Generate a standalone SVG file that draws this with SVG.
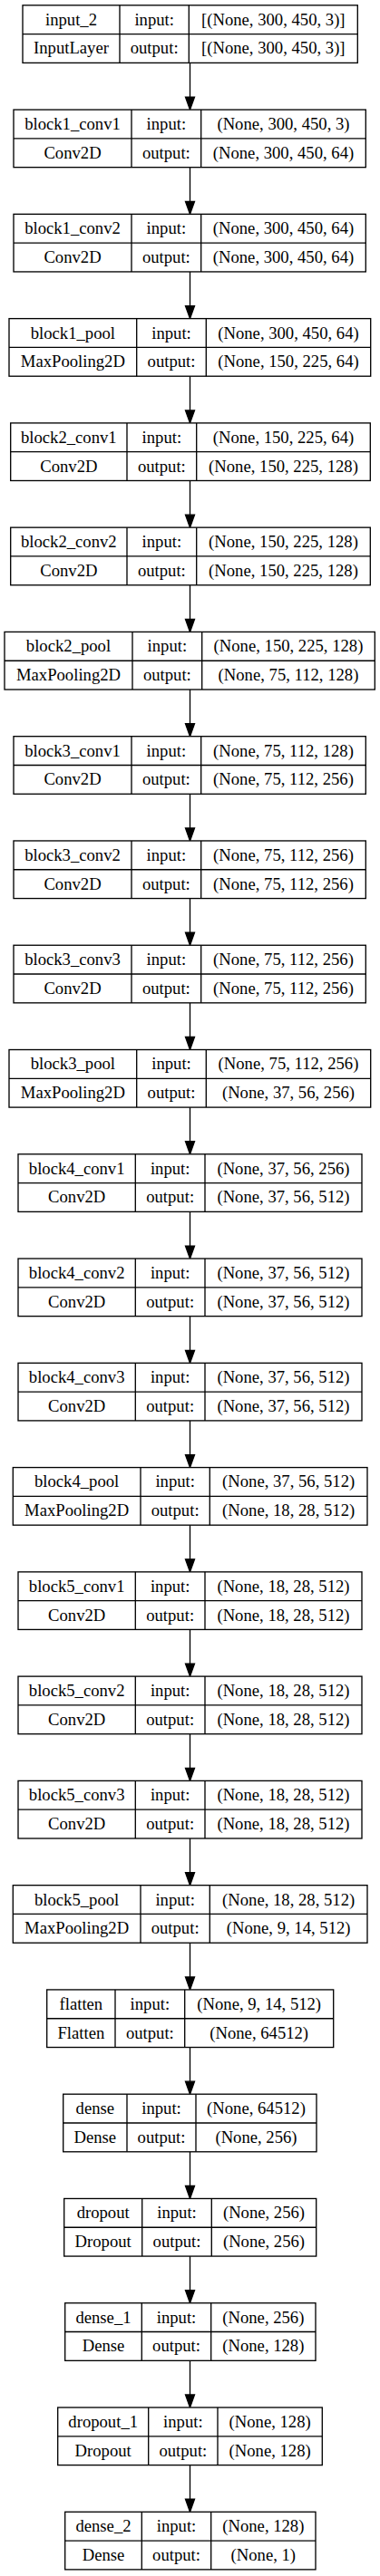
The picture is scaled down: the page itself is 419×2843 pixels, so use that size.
<svg xmlns="http://www.w3.org/2000/svg" width="419" height="2843" viewBox="0 0 419 2843">
<style>
.box{fill:#fff;stroke:#000;stroke-width:1.33}
.ln{stroke:#000;stroke-width:1.33}
text{font-family:"Liberation Serif","Times New Roman",serif;font-size:18.67px;fill:#000;text-anchor:middle}
.edge{stroke:#000;stroke-width:1.33;fill:none;marker-end:url(#ah)}
</style>
<defs>
<marker id="ah" markerUnits="userSpaceOnUse" markerWidth="10" markerHeight="14" refX="5" refY="0" orient="0" viewBox="0 0 10 14" overflow="visible">
<path d="M0,0 L10,0 L5,14 Z" fill="#000" stroke="#000" stroke-width="1.33"/>
</marker>
</defs>
<rect width="419" height="2843" fill="#fff"/>
<g id="connectors">
<path class="edge" d="M209.5,69.4V107.07"/>
<path class="edge" d="M209.5,184.67V222.34"/>
<path class="edge" d="M209.5,299.94V337.61"/>
<path class="edge" d="M209.5,415.21V452.88"/>
<path class="edge" d="M209.5,530.48V568.15"/>
<path class="edge" d="M209.5,645.75V683.42"/>
<path class="edge" d="M209.5,761.02V798.69"/>
<path class="edge" d="M209.5,876.29V913.96"/>
<path class="edge" d="M209.5,991.56V1029.23"/>
<path class="edge" d="M209.5,1106.83V1144.5"/>
<path class="edge" d="M209.5,1222.1V1259.77"/>
<path class="edge" d="M209.5,1337.37V1375.04"/>
<path class="edge" d="M209.5,1452.64V1490.31"/>
<path class="edge" d="M209.5,1567.91V1605.58"/>
<path class="edge" d="M209.5,1683.18V1720.85"/>
<path class="edge" d="M209.5,1798.45V1836.12"/>
<path class="edge" d="M209.5,1913.72V1951.39"/>
<path class="edge" d="M209.5,2028.99V2066.66"/>
<path class="edge" d="M209.5,2144.26V2181.93"/>
<path class="edge" d="M209.5,2259.53V2297.2"/>
<path class="edge" d="M209.5,2374.8V2412.47"/>
<path class="edge" d="M209.5,2490.07V2527.74"/>
<path class="edge" d="M209.5,2605.34V2643.01"/>
<path class="edge" d="M209.5,2720.61V2758.28"/>
</g>
<g id="input_2" transform="translate(0,5.8)">
<rect class="box" x="25" y="0" width="369.3" height="63.6"/>
<line class="ln" x1="25" y1="31.8" x2="394.3" y2="31.8"/>
<line class="ln" x1="132" y1="0" x2="132" y2="63.6"/>
<line class="ln" x1="208.3" y1="0" x2="208.3" y2="63.6"/>
<text x="78.5" y="21.9">input_2</text><text x="78.5" y="53.7">InputLayer</text>
<text x="170.15" y="21.9">input:</text><text x="170.15" y="53.7">output:</text>
<text x="301.3" y="21.9">[(None, 300, 450, 3)]</text><text x="301.3" y="53.7">[(None, 300, 450, 3)]</text>
</g>
<g id="block1_conv1" transform="translate(0,121.07)">
<rect class="box" x="15" y="0" width="388.3" height="63.6"/>
<line class="ln" x1="15" y1="31.8" x2="403.3" y2="31.8"/>
<line class="ln" x1="145" y1="0" x2="145" y2="63.6"/>
<line class="ln" x1="221.7" y1="0" x2="221.7" y2="63.6"/>
<text x="80" y="21.9">block1_conv1</text><text x="80" y="53.7">Conv2D</text>
<text x="183.35" y="21.9">input:</text><text x="183.35" y="53.7">output:</text>
<text x="312.5" y="21.9">(None, 300, 450, 3)</text><text x="312.5" y="53.7">(None, 300, 450, 64)</text>
</g>
<g id="block1_conv2" transform="translate(0,236.34)">
<rect class="box" x="15" y="0" width="388.3" height="63.6"/>
<line class="ln" x1="15" y1="31.8" x2="403.3" y2="31.8"/>
<line class="ln" x1="145" y1="0" x2="145" y2="63.6"/>
<line class="ln" x1="221.7" y1="0" x2="221.7" y2="63.6"/>
<text x="80" y="21.9">block1_conv2</text><text x="80" y="53.7">Conv2D</text>
<text x="183.35" y="21.9">input:</text><text x="183.35" y="53.7">output:</text>
<text x="312.5" y="21.9">(None, 300, 450, 64)</text><text x="312.5" y="53.7">(None, 300, 450, 64)</text>
</g>
<g id="block1_pool" transform="translate(0,351.61)">
<rect class="box" x="10" y="0" width="398.7" height="63.6"/>
<line class="ln" x1="10" y1="31.8" x2="408.7" y2="31.8"/>
<line class="ln" x1="150.7" y1="0" x2="150.7" y2="63.6"/>
<line class="ln" x1="227.3" y1="0" x2="227.3" y2="63.6"/>
<text x="80.35" y="21.9">block1_pool</text><text x="80.35" y="53.7">MaxPooling2D</text>
<text x="189" y="21.9">input:</text><text x="189" y="53.7">output:</text>
<text x="318" y="21.9">(None, 300, 450, 64)</text><text x="318" y="53.7">(None, 150, 225, 64)</text>
</g>
<g id="block2_conv1" transform="translate(0,466.88)">
<rect class="box" x="11.7" y="0" width="396.6" height="63.6"/>
<line class="ln" x1="11.7" y1="31.8" x2="408.3" y2="31.8"/>
<line class="ln" x1="140" y1="0" x2="140" y2="63.6"/>
<line class="ln" x1="216.7" y1="0" x2="216.7" y2="63.6"/>
<text x="75.85" y="21.9">block2_conv1</text><text x="75.85" y="53.7">Conv2D</text>
<text x="178.35" y="21.9">input:</text><text x="178.35" y="53.7">output:</text>
<text x="312.5" y="21.9">(None, 150, 225, 64)</text><text x="312.5" y="53.7">(None, 150, 225, 128)</text>
</g>
<g id="block2_conv2" transform="translate(0,582.15)">
<rect class="box" x="11.7" y="0" width="396.6" height="63.6"/>
<line class="ln" x1="11.7" y1="31.8" x2="408.3" y2="31.8"/>
<line class="ln" x1="140" y1="0" x2="140" y2="63.6"/>
<line class="ln" x1="216.7" y1="0" x2="216.7" y2="63.6"/>
<text x="75.85" y="21.9">block2_conv2</text><text x="75.85" y="53.7">Conv2D</text>
<text x="178.35" y="21.9">input:</text><text x="178.35" y="53.7">output:</text>
<text x="312.5" y="21.9">(None, 150, 225, 128)</text><text x="312.5" y="53.7">(None, 150, 225, 128)</text>
</g>
<g id="block2_pool" transform="translate(0,697.42)">
<rect class="box" x="5" y="0" width="408.3" height="63.6"/>
<line class="ln" x1="5" y1="31.8" x2="413.3" y2="31.8"/>
<line class="ln" x1="146" y1="0" x2="146" y2="63.6"/>
<line class="ln" x1="222.7" y1="0" x2="222.7" y2="63.6"/>
<text x="75.5" y="21.9">block2_pool</text><text x="75.5" y="53.7">MaxPooling2D</text>
<text x="184.35" y="21.9">input:</text><text x="184.35" y="53.7">output:</text>
<text x="318" y="21.9">(None, 150, 225, 128)</text><text x="318" y="53.7">(None, 75, 112, 128)</text>
</g>
<g id="block3_conv1" transform="translate(0,812.69)">
<rect class="box" x="15" y="0" width="388.3" height="63.6"/>
<line class="ln" x1="15" y1="31.8" x2="403.3" y2="31.8"/>
<line class="ln" x1="145" y1="0" x2="145" y2="63.6"/>
<line class="ln" x1="221.7" y1="0" x2="221.7" y2="63.6"/>
<text x="80" y="21.9">block3_conv1</text><text x="80" y="53.7">Conv2D</text>
<text x="183.35" y="21.9">input:</text><text x="183.35" y="53.7">output:</text>
<text x="312.5" y="21.9">(None, 75, 112, 128)</text><text x="312.5" y="53.7">(None, 75, 112, 256)</text>
</g>
<g id="block3_conv2" transform="translate(0,927.96)">
<rect class="box" x="15" y="0" width="388.3" height="63.6"/>
<line class="ln" x1="15" y1="31.8" x2="403.3" y2="31.8"/>
<line class="ln" x1="145" y1="0" x2="145" y2="63.6"/>
<line class="ln" x1="221.7" y1="0" x2="221.7" y2="63.6"/>
<text x="80" y="21.9">block3_conv2</text><text x="80" y="53.7">Conv2D</text>
<text x="183.35" y="21.9">input:</text><text x="183.35" y="53.7">output:</text>
<text x="312.5" y="21.9">(None, 75, 112, 256)</text><text x="312.5" y="53.7">(None, 75, 112, 256)</text>
</g>
<g id="block3_conv3" transform="translate(0,1043.23)">
<rect class="box" x="15" y="0" width="388.3" height="63.6"/>
<line class="ln" x1="15" y1="31.8" x2="403.3" y2="31.8"/>
<line class="ln" x1="145" y1="0" x2="145" y2="63.6"/>
<line class="ln" x1="221.7" y1="0" x2="221.7" y2="63.6"/>
<text x="80" y="21.9">block3_conv3</text><text x="80" y="53.7">Conv2D</text>
<text x="183.35" y="21.9">input:</text><text x="183.35" y="53.7">output:</text>
<text x="312.5" y="21.9">(None, 75, 112, 256)</text><text x="312.5" y="53.7">(None, 75, 112, 256)</text>
</g>
<g id="block3_pool" transform="translate(0,1158.5)">
<rect class="box" x="10" y="0" width="398.7" height="63.6"/>
<line class="ln" x1="10" y1="31.8" x2="408.7" y2="31.8"/>
<line class="ln" x1="150.7" y1="0" x2="150.7" y2="63.6"/>
<line class="ln" x1="227.3" y1="0" x2="227.3" y2="63.6"/>
<text x="80.35" y="21.9">block3_pool</text><text x="80.35" y="53.7">MaxPooling2D</text>
<text x="189" y="21.9">input:</text><text x="189" y="53.7">output:</text>
<text x="318" y="21.9">(None, 75, 112, 256)</text><text x="318" y="53.7">(None, 37, 56, 256)</text>
</g>
<g id="block4_conv1" transform="translate(0,1273.77)">
<rect class="box" x="20" y="0" width="379" height="63.6"/>
<line class="ln" x1="20" y1="31.8" x2="399" y2="31.8"/>
<line class="ln" x1="149.3" y1="0" x2="149.3" y2="63.6"/>
<line class="ln" x1="226" y1="0" x2="226" y2="63.6"/>
<text x="84.65" y="21.9">block4_conv1</text><text x="84.65" y="53.7">Conv2D</text>
<text x="187.65" y="21.9">input:</text><text x="187.65" y="53.7">output:</text>
<text x="312.5" y="21.9">(None, 37, 56, 256)</text><text x="312.5" y="53.7">(None, 37, 56, 512)</text>
</g>
<g id="block4_conv2" transform="translate(0,1389.04)">
<rect class="box" x="20" y="0" width="379" height="63.6"/>
<line class="ln" x1="20" y1="31.8" x2="399" y2="31.8"/>
<line class="ln" x1="149.3" y1="0" x2="149.3" y2="63.6"/>
<line class="ln" x1="226" y1="0" x2="226" y2="63.6"/>
<text x="84.65" y="21.9">block4_conv2</text><text x="84.65" y="53.7">Conv2D</text>
<text x="187.65" y="21.9">input:</text><text x="187.65" y="53.7">output:</text>
<text x="312.5" y="21.9">(None, 37, 56, 512)</text><text x="312.5" y="53.7">(None, 37, 56, 512)</text>
</g>
<g id="block4_conv3" transform="translate(0,1504.31)">
<rect class="box" x="20" y="0" width="379" height="63.6"/>
<line class="ln" x1="20" y1="31.8" x2="399" y2="31.8"/>
<line class="ln" x1="149.3" y1="0" x2="149.3" y2="63.6"/>
<line class="ln" x1="226" y1="0" x2="226" y2="63.6"/>
<text x="84.65" y="21.9">block4_conv3</text><text x="84.65" y="53.7">Conv2D</text>
<text x="187.65" y="21.9">input:</text><text x="187.65" y="53.7">output:</text>
<text x="312.5" y="21.9">(None, 37, 56, 512)</text><text x="312.5" y="53.7">(None, 37, 56, 512)</text>
</g>
<g id="block4_pool" transform="translate(0,1619.58)">
<rect class="box" x="14.3" y="0" width="390.7" height="63.6"/>
<line class="ln" x1="14.3" y1="31.8" x2="405" y2="31.8"/>
<line class="ln" x1="155" y1="0" x2="155" y2="63.6"/>
<line class="ln" x1="231.3" y1="0" x2="231.3" y2="63.6"/>
<text x="84.65" y="21.9">block4_pool</text><text x="84.65" y="53.7">MaxPooling2D</text>
<text x="193.15" y="21.9">input:</text><text x="193.15" y="53.7">output:</text>
<text x="318.15" y="21.9">(None, 37, 56, 512)</text><text x="318.15" y="53.7">(None, 18, 28, 512)</text>
</g>
<g id="block5_conv1" transform="translate(0,1734.85)">
<rect class="box" x="20" y="0" width="379" height="63.6"/>
<line class="ln" x1="20" y1="31.8" x2="399" y2="31.8"/>
<line class="ln" x1="149.3" y1="0" x2="149.3" y2="63.6"/>
<line class="ln" x1="226" y1="0" x2="226" y2="63.6"/>
<text x="84.65" y="21.9">block5_conv1</text><text x="84.65" y="53.7">Conv2D</text>
<text x="187.65" y="21.9">input:</text><text x="187.65" y="53.7">output:</text>
<text x="312.5" y="21.9">(None, 18, 28, 512)</text><text x="312.5" y="53.7">(None, 18, 28, 512)</text>
</g>
<g id="block5_conv2" transform="translate(0,1850.12)">
<rect class="box" x="20" y="0" width="379" height="63.6"/>
<line class="ln" x1="20" y1="31.8" x2="399" y2="31.8"/>
<line class="ln" x1="149.3" y1="0" x2="149.3" y2="63.6"/>
<line class="ln" x1="226" y1="0" x2="226" y2="63.6"/>
<text x="84.65" y="21.9">block5_conv2</text><text x="84.65" y="53.7">Conv2D</text>
<text x="187.65" y="21.9">input:</text><text x="187.65" y="53.7">output:</text>
<text x="312.5" y="21.9">(None, 18, 28, 512)</text><text x="312.5" y="53.7">(None, 18, 28, 512)</text>
</g>
<g id="block5_conv3" transform="translate(0,1965.39)">
<rect class="box" x="20" y="0" width="379" height="63.6"/>
<line class="ln" x1="20" y1="31.8" x2="399" y2="31.8"/>
<line class="ln" x1="149.3" y1="0" x2="149.3" y2="63.6"/>
<line class="ln" x1="226" y1="0" x2="226" y2="63.6"/>
<text x="84.65" y="21.9">block5_conv3</text><text x="84.65" y="53.7">Conv2D</text>
<text x="187.65" y="21.9">input:</text><text x="187.65" y="53.7">output:</text>
<text x="312.5" y="21.9">(None, 18, 28, 512)</text><text x="312.5" y="53.7">(None, 18, 28, 512)</text>
</g>
<g id="block5_pool" transform="translate(0,2080.66)">
<rect class="box" x="14.3" y="0" width="390.7" height="63.6"/>
<line class="ln" x1="14.3" y1="31.8" x2="405" y2="31.8"/>
<line class="ln" x1="155" y1="0" x2="155" y2="63.6"/>
<line class="ln" x1="231.3" y1="0" x2="231.3" y2="63.6"/>
<text x="84.65" y="21.9">block5_pool</text><text x="84.65" y="53.7">MaxPooling2D</text>
<text x="193.15" y="21.9">input:</text><text x="193.15" y="53.7">output:</text>
<text x="318.15" y="21.9">(None, 18, 28, 512)</text><text x="318.15" y="53.7">(None, 9, 14, 512)</text>
</g>
<g id="flatten" transform="translate(0,2195.93)">
<rect class="box" x="51.7" y="0" width="316" height="63.6"/>
<line class="ln" x1="51.7" y1="31.8" x2="367.7" y2="31.8"/>
<line class="ln" x1="127" y1="0" x2="127" y2="63.6"/>
<line class="ln" x1="203.7" y1="0" x2="203.7" y2="63.6"/>
<text x="89.35" y="21.9">flatten</text><text x="89.35" y="53.7">Flatten</text>
<text x="165.35" y="21.9">input:</text><text x="165.35" y="53.7">output:</text>
<text x="285.7" y="21.9">(None, 9, 14, 512)</text><text x="285.7" y="53.7">(None, 64512)</text>
</g>
<g id="dense" transform="translate(0,2311.2)">
<rect class="box" x="69.7" y="0" width="279.3" height="63.6"/>
<line class="ln" x1="69.7" y1="31.8" x2="349" y2="31.8"/>
<line class="ln" x1="140" y1="0" x2="140" y2="63.6"/>
<line class="ln" x1="216" y1="0" x2="216" y2="63.6"/>
<text x="104.85" y="21.9">dense</text><text x="104.85" y="53.7">Dense</text>
<text x="178" y="21.9">input:</text><text x="178" y="53.7">output:</text>
<text x="282.5" y="21.9">(None, 64512)</text><text x="282.5" y="53.7">(None, 256)</text>
</g>
<g id="dropout" transform="translate(0,2426.47)">
<rect class="box" x="70.7" y="0" width="278" height="63.6"/>
<line class="ln" x1="70.7" y1="31.8" x2="348.7" y2="31.8"/>
<line class="ln" x1="156.7" y1="0" x2="156.7" y2="63.6"/>
<line class="ln" x1="233.3" y1="0" x2="233.3" y2="63.6"/>
<text x="113.7" y="21.9">dropout</text><text x="113.7" y="53.7">Dropout</text>
<text x="195" y="21.9">input:</text><text x="195" y="53.7">output:</text>
<text x="291" y="21.9">(None, 256)</text><text x="291" y="53.7">(None, 256)</text>
</g>
<g id="dense_1" transform="translate(0,2541.74)">
<rect class="box" x="71.7" y="0" width="276.3" height="63.6"/>
<line class="ln" x1="71.7" y1="31.8" x2="348" y2="31.8"/>
<line class="ln" x1="156.3" y1="0" x2="156.3" y2="63.6"/>
<line class="ln" x1="232.7" y1="0" x2="232.7" y2="63.6"/>
<text x="114" y="21.9">dense_1</text><text x="114" y="53.7">Dense</text>
<text x="194.5" y="21.9">input:</text><text x="194.5" y="53.7">output:</text>
<text x="290.35" y="21.9">(None, 256)</text><text x="290.35" y="53.7">(None, 128)</text>
</g>
<g id="dropout_1" transform="translate(0,2657.01)">
<rect class="box" x="63.7" y="0" width="291.6" height="63.6"/>
<line class="ln" x1="63.7" y1="31.8" x2="355.3" y2="31.8"/>
<line class="ln" x1="163.7" y1="0" x2="163.7" y2="63.6"/>
<line class="ln" x1="240" y1="0" x2="240" y2="63.6"/>
<text x="113.7" y="21.9">dropout_1</text><text x="113.7" y="53.7">Dropout</text>
<text x="201.85" y="21.9">input:</text><text x="201.85" y="53.7">output:</text>
<text x="297.65" y="21.9">(None, 128)</text><text x="297.65" y="53.7">(None, 128)</text>
</g>
<g id="dense_2" transform="translate(0,2772.28)">
<rect class="box" x="71.7" y="0" width="276.3" height="63.6"/>
<line class="ln" x1="71.7" y1="31.8" x2="348" y2="31.8"/>
<line class="ln" x1="156.3" y1="0" x2="156.3" y2="63.6"/>
<line class="ln" x1="232.7" y1="0" x2="232.7" y2="63.6"/>
<text x="114" y="21.9">dense_2</text><text x="114" y="53.7">Dense</text>
<text x="194.5" y="21.9">input:</text><text x="194.5" y="53.7">output:</text>
<text x="290.35" y="21.9">(None, 128)</text><text x="290.35" y="53.7">(None, 1)</text>
</g>
</svg>
